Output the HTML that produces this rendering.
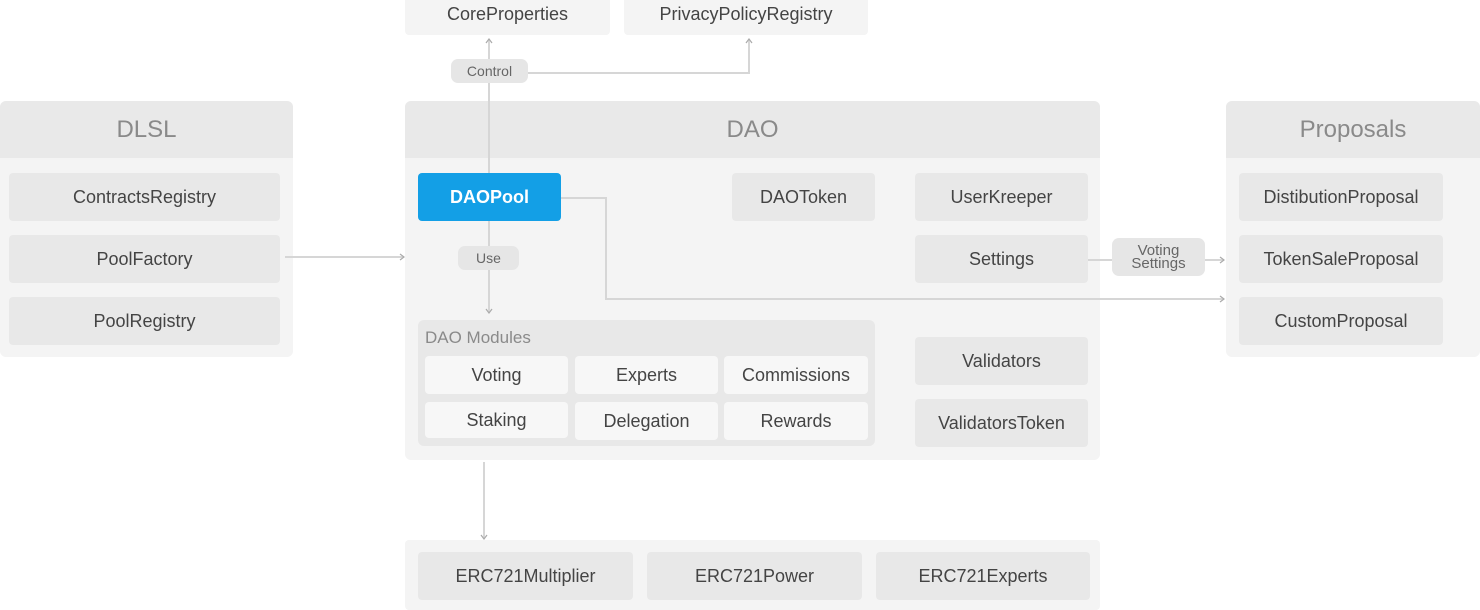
<!DOCTYPE html>
<html><head><style>
body{margin:0;width:1480px;height:606px;background:#fff;position:relative;overflow:hidden;font-family:"Liberation Sans",sans-serif;}
div{position:absolute;box-sizing:border-box;}
.p{background:#f4f4f4;border-radius:6px;}
.h{background:#e9e9e9;border-radius:6px 6px 0 0;color:#8a8a8a;font-size:24px;display:flex;align-items:center;justify-content:center;}
.b{background:#e8e8e8;border-radius:4px;color:#444;font-size:18px;display:flex;align-items:center;justify-content:center;}
.c{background:#f7f7f7;border-radius:4px;color:#444;font-size:18px;display:flex;align-items:center;justify-content:center;}
.l{background:#e6e6e6;border-radius:7px;color:#666;font-size:14px;display:flex;align-items:center;justify-content:center;text-align:center;line-height:13px;}
svg{position:absolute;left:0;top:0;}
</style></head><body>
<div class="p" style="left:405px;top:-6px;width:205px;height:41px"></div>
<div class="b" style="left:405px;top:-6px;width:205px;height:41px;background:#f4f4f4">CoreProperties</div>
<div class="b" style="left:624px;top:-6px;width:244px;height:41px;background:#f4f4f4">PrivacyPolicyRegistry</div>

<div class="p" style="left:0;top:101px;width:293px;height:256px"></div>
<div class="h" style="left:0;top:101px;width:293px;height:57px">DLSL</div>
<div class="b" style="left:9px;top:173px;width:271px;height:48px">ContractsRegistry</div>
<div class="b" style="left:9px;top:235px;width:271px;height:48px">PoolFactory</div>
<div class="b" style="left:9px;top:297px;width:271px;height:48px">PoolRegistry</div>

<div class="p" style="left:405px;top:101px;width:695px;height:359px"></div>
<div class="h" style="left:405px;top:101px;width:695px;height:57px">DAO</div>

<div class="p" style="left:1226px;top:101px;width:254px;height:256px"></div>
<div class="h" style="left:1226px;top:101px;width:254px;height:57px">Proposals</div>
<div class="b" style="left:1239px;top:173px;width:204px;height:48px">DistibutionProposal</div>
<div class="b" style="left:1239px;top:235px;width:204px;height:48px">TokenSaleProposal</div>
<div class="b" style="left:1239px;top:297px;width:204px;height:48px">CustomProposal</div>

<div class="p" style="left:405px;top:540px;width:695px;height:70px;border-radius:4px"></div>
<div class="b" style="left:418px;top:552px;width:215px;height:48px">ERC721Multiplier</div>
<div class="b" style="left:647px;top:552px;width:215px;height:48px">ERC721Power</div>
<div class="b" style="left:876px;top:552px;width:214px;height:48px">ERC721Experts</div>

<svg width="1480" height="606">
<g stroke="#d6d6d6" stroke-width="2" fill="none">
<path d="M489 40V246M489 270V312"/>
<path d="M528 73H749V40"/>
<path d="M285 257H403"/>
<path d="M561 198H606V299H1223"/>
<path d="M1088 260H1112M1205 260H1223"/>
<path d="M484 462V538"/>
</g>
<g stroke="#aaa" stroke-width="1.2" fill="none">
<path d="M486 43L489 39L492 43M746 43L749 39L752 43M400 254L404 257L400 260M1220 257L1224 260L1220 263M1220 296L1224 299L1220 302M486 309L489 313L492 309M481 535L484 539L487 535"/>
</g>
</svg>

<div class="l" style="left:451px;top:59px;width:77px;height:24px">Control</div>
<div class="l" style="left:458px;top:246px;width:61px;height:24px">Use</div>
<div class="l" style="left:1112px;top:238px;width:93px;height:38px;font-size:15px">Voting<br>Settings</div>

<div class="b" style="left:418px;top:173px;width:143px;height:48px;background:#139fe6;color:#fff;font-weight:bold">DAOPool</div>
<div class="b" style="left:732px;top:173px;width:143px;height:48px">DAOToken</div>
<div class="b" style="left:915px;top:173px;width:173px;height:48px">UserKreeper</div>
<div class="b" style="left:915px;top:235px;width:173px;height:48px">Settings</div>
<div class="b" style="left:915px;top:337px;width:173px;height:48px">Validators</div>
<div class="b" style="left:915px;top:399px;width:173px;height:48px">ValidatorsToken</div>

<div class="b" style="left:418px;top:320px;width:457px;height:126px;background:#e8e8e8;border-radius:6px"></div>
<div style="left:425px;top:328px;color:#8a8a8a;font-size:17px">DAO Modules</div>
<div class="c" style="left:425px;top:356px;width:143px;height:38px">Voting</div>
<div class="c" style="left:575px;top:356px;width:143px;height:38px">Experts</div>
<div class="c" style="left:724px;top:356px;width:144px;height:38px">Commissions</div>
<div class="c" style="left:425px;top:402px;width:143px;height:36px">Staking</div>
<div class="c" style="left:575px;top:402px;width:143px;height:38px">Delegation</div>
<div class="c" style="left:724px;top:402px;width:144px;height:38px">Rewards</div>
</body></html>
